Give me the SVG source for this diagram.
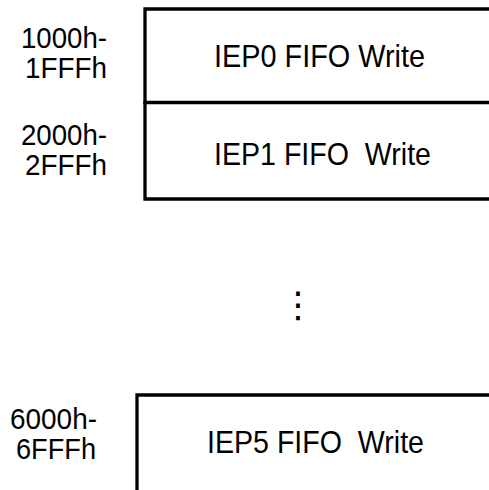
<svg xmlns="http://www.w3.org/2000/svg" width="489" height="490" viewBox="0 0 489 490">
<style>
.ln{stroke:#000;stroke-width:3.3;fill:none;stroke-linecap:square}
.lbl{font-family:"Liberation Sans",Arial,sans-serif;font-size:30px;fill:#000;text-anchor:end}
.main{font-family:"Liberation Sans",Arial,sans-serif;font-size:32px;fill:#000;white-space:pre}
</style>
<rect width="489" height="490" fill="#fff"/>
<g id="connectors"></g>
<g id="iep0">
<path class="ln" d="M489,9 H145 V102.5 H489"/>
<text class="main" x="214" y="66.5" textLength="211" lengthAdjust="spacingAndGlyphs">IEP0 FIFO Write</text>
<text class="lbl" x="107" y="48" textLength="86" lengthAdjust="spacingAndGlyphs">1000h-</text>
<text class="lbl" x="107" y="78" textLength="82" lengthAdjust="spacingAndGlyphs">1FFFh</text>
</g>
<g id="iep1">
<path class="ln" d="M145,102.5 V199 H489"/>
<text class="main" x="214" y="164.5" textLength="217" lengthAdjust="spacingAndGlyphs">IEP1 FIFO  Write</text>
<text class="lbl" x="107" y="145" textLength="86" lengthAdjust="spacingAndGlyphs">2000h-</text>
<text class="lbl" x="107" y="175" textLength="82" lengthAdjust="spacingAndGlyphs">2FFFh</text>
</g>
<g id="ellipsis">
<text x="298" y="317" font-family="DejaVu Sans, sans-serif" font-size="36" text-anchor="middle">⋮</text>
</g>
<g id="iep5">
<path class="ln" d="M137,492 V395 H489"/>
<text class="main" x="207" y="452.5" textLength="217" lengthAdjust="spacingAndGlyphs">IEP5 FIFO  Write</text>
<text class="lbl" x="97" y="429" textLength="87" lengthAdjust="spacingAndGlyphs">6000h-</text>
<text class="lbl" x="96" y="459" textLength="80" lengthAdjust="spacingAndGlyphs">6FFFh</text>
</g>
</svg>
